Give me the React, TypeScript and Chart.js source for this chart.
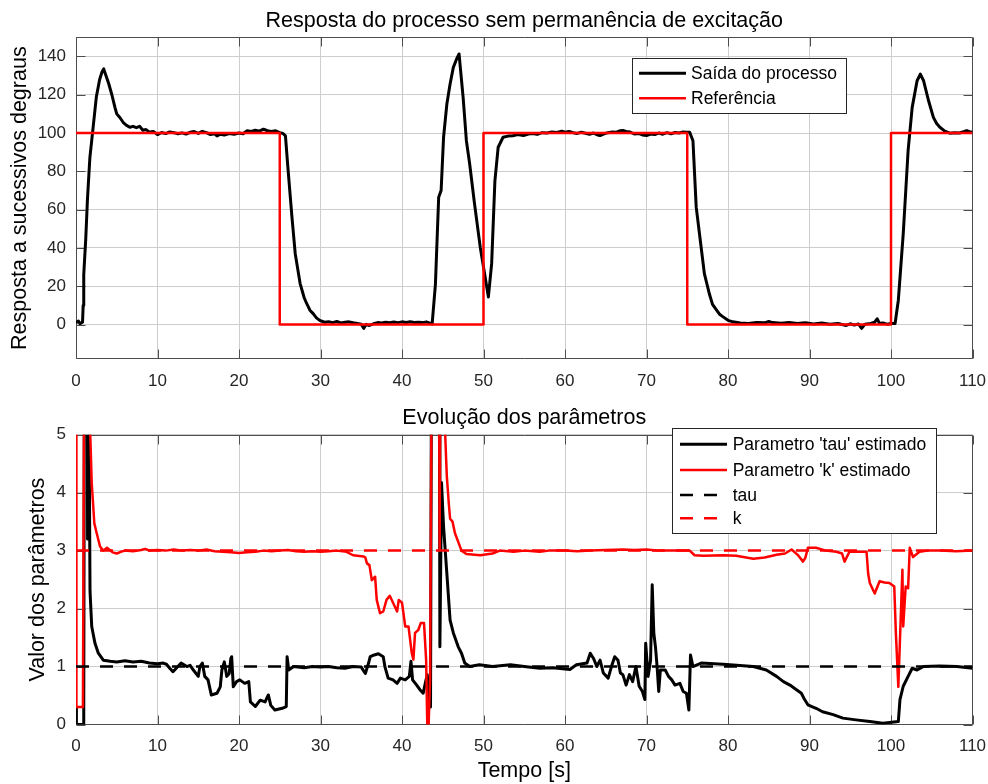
import React, { useEffect, useRef } from 'react';
import { Chart, registerables } from 'chart.js';

Chart.register(...registerables);

const FONT = "'Liberation Sans', Arial, Helvetica, sans-serif";
const GRID = '#cdcdcd';
const AXIS = '#4d4d4d';
const TICK_TEXT = '#262626';

// ---------- tick labels ----------
const xTicks = [0, 10, 20, 30, 40, 50, 60, 70, 80, 90, 100, 110];
const topYTicks = [0, 20, 40, 60, 80, 100, 120, 140];
const botYTicks = [0, 1, 2, 3, 4, 5];

// ---------- top chart: process output [t, value] ----------
const processOutput: [number, number][] = [
  [0, 1], [0.3, 1.8], [0.5, 0.5], [0.8, 1.2], [0.88, 10], [0.95, 26], [1.2, 45], [1.4, 65], [1.7, 87],
  [2.1, 103], [2.5, 119], [2.9, 128], [3.2, 132], [3.4, 133.5], [3.6, 131], [4.0, 126], [4.4, 120],
  [4.8, 113], [5.0, 110], [5.4, 108], [5.8, 105.5], [6.2, 104], [6.6, 103], [7.0, 103.5], [7.4, 102.8],
  [7.8, 103.5], [8.2, 101.5], [8.6, 101.8], [9.0, 100.5], [9.5, 100.8], [10.0, 99.2], [10.5, 100.3],
  [11.0, 99.7], [11.5, 100.6], [12.0, 100.2], [12.5, 99.6], [13.0, 100.1], [13.5, 99.5], [14.0, 100.4],
  [14.5, 100.8], [15.0, 99.8], [15.5, 100.9], [16.0, 100.2], [16.5, 99.2], [17.0, 99.6], [17.3, 98.5],
  [17.7, 99.4], [18.2, 99.0], [18.8, 99.7], [19.4, 99.4], [20.0, 100.0], [20.5, 99.6], [21.0, 101.2],
  [21.5, 100.8], [22.0, 101.5], [22.5, 101.0], [23.0, 102.0], [23.5, 101.2], [24.0, 100.8], [24.5, 101.2],
  [25.0, 100.2], [25.4, 99.8], [25.7, 98.5], [26.0, 82], [26.5, 56], [26.9, 37], [27.5, 21.4], [28.0, 14],
  [28.3, 11], [28.7, 7.5], [29.1, 5.7], [29.5, 3.5], [29.9, 2.2], [30.5, 1.2], [31, 1.5], [31.5, 1.0],
  [32, 1.6], [32.5, 0.8], [33, 1.2], [33.5, 1.4], [34, 0.9], [34.5, 0.6], [35.0, 0.2], [35.3, -2],
  [35.6, 0.1], [36.0, -0.5], [36.5, 0.4], [37, 1.0], [37.5, 0.8], [38, 1.2], [38.5, 0.9], [39, 1.3],
  [39.5, 1.0], [40, 1.4], [40.5, 1.1], [41, 1.5], [41.5, 1.1], [42, 1.2], [42.5, 1.0], [43, 1.4],
  [43.5, 0.6], [43.7, 0.3], [44.1, 21], [44.5, 66.5], [44.8, 70], [45.1, 97.8], [45.5, 115], [45.9, 125.6],
  [46.3, 134.3], [46.7, 138.7], [47.0, 141.3], [47.5, 118.6], [47.9, 96], [48.3, 84], [48.9, 63],
  [49.6, 40.4], [50.2, 24.8], [50.6, 14.4], [51.0, 31.8], [51.4, 75], [51.8, 92.6], [52.4, 97.8],
  [53.0, 98.4], [53.6, 98.6], [54.2, 99.2], [54.9, 98.7], [55.5, 99.5], [56.0, 99.8], [56.6, 99.3],
  [57.2, 100.2], [57.8, 100.0], [58.4, 100.6], [59.0, 100.3], [59.6, 101.0], [60.0, 100.4], [60.5, 100.8],
  [61.0, 100.2], [61.5, 99.8], [62.0, 100.4], [62.5, 99.9], [63.0, 99.4], [63.5, 100.0], [64.0, 99.0],
  [64.3, 98.7], [64.8, 99.6], [65.3, 100.2], [65.8, 100.6], [66.3, 100.4], [66.8, 101.2], [67.1, 101.3],
  [67.5, 100.8], [68.0, 100.5], [68.5, 99.5], [69.0, 99.8], [69.5, 99.0], [70.0, 98.7], [70.5, 99.5],
  [71.0, 99.2], [71.5, 100.0], [72.0, 99.4], [72.5, 100.2], [73.0, 99.6], [73.5, 100.3], [74.0, 100.0],
  [74.5, 100.6], [74.9, 100.4], [75.3, 100.4], [75.7, 96], [76.1, 61.3], [76.5, 47.4], [77.1, 26.6],
  [77.7, 16.2], [78.1, 10.5], [78.6, 7.5], [79.0, 5.2], [79.4, 4], [80.0, 2.2], [80.6, 1.4], [81.5, 0.8],
  [82.5, 0.6], [83.5, 1.1], [84.5, 0.9], [85.0, 1.6], [85.5, 1.0], [86.5, 0.7], [87.5, 1.1], [88.5, 0.5],
  [89.5, 0.9], [90.5, 0.3], [91.5, 0.8], [92.5, 0.2], [93.5, 0.5], [94.5, -0.5], [95.0, 0.4], [95.5, -0.3],
  [96.0, 0.3], [96.4, -2], [96.8, 0.2], [97.5, 0.6], [98.0, 1.2], [98.3, 3], [98.6, 0.5], [99.0, 0.8],
  [99.5, 0.2], [100.0, 0.5], [100.5, 0.5], [100.9, 12.7], [101.5, 47.4], [102.1, 90.9], [102.6, 113.4],
  [103.2, 127.3], [103.6, 130.8], [104.0, 127.3], [104.6, 117], [105.2, 108.2], [105.6, 105], [106.0, 103],
  [106.6, 101], [107.2, 99.9], [107.8, 100.2], [108.4, 100.0], [109.0, 100.8], [109.3, 101.3],
  [109.7, 100.6], [110.0, 100.5],
];

// ---------- top chart: reference steps [t, value] ----------
const reference: [number, number][] = [
  [0, 100], [25, 100], [25, 0], [50, 0], [50, 100], [75, 100], [75, 0], [100, 0], [100, 100], [110, 100],
];

// ---------- bottom chart: estimated tau [t, value] ----------
const tauEstimated: [number, number][] = [
  [0, 0.28], [0.05, 0], [0.95, 0], [1.05, 8], [1.38, 8], [1.42, 3.2], [1.48, 8], [1.56, 8], [1.62, 4.8],
  [1.72, 2.3], [1.93, 1.69], [2.33, 1.4], [2.74, 1.23], [3.35, 1.11], [4.2, 1.09], [5, 1.08], [6, 1.1],
  [7, 1.08], [8, 1.09], [9, 1.06], [10, 1.05], [10.7, 1.06], [11.1, 1.04], [11.5, 0.97], [11.9, 0.91],
  [12.5, 1.0], [12.9, 1.06], [13.6, 1.0], [14.0, 1.02], [14.4, 0.94], [15.0, 0.83], [15.2, 1.0],
  [15.5, 1.06], [15.8, 0.83], [16.2, 0.77], [16.6, 0.51], [17.3, 0.54], [17.7, 0.65], [17.9, 0.94],
  [18.2, 1.08], [18.5, 0.83], [18.8, 0.88], [19.0, 1.14], [19.1, 1.17], [19.3, 0.65], [19.7, 0.74],
  [20.1, 0.77], [20.7, 0.71], [21.2, 0.74], [21.4, 0.39], [22.0, 0.31], [22.6, 0.42], [23.2, 0.39],
  [23.6, 0.51], [23.9, 0.33], [24.4, 0.25], [25.3, 0.28], [25.8, 0.31], [25.9, 1.17], [26.1, 0.94],
  [26.7, 1.0], [28, 0.98], [29, 1.0], [30, 0.99], [31, 1.0], [32, 0.98], [33, 0.97], [34, 1.0],
  [35, 0.99], [35.5, 0.88], [35.9, 1.06], [36.1, 1.17], [36.6, 1.2], [37.1, 1.22], [37.7, 1.17],
  [37.9, 1.0], [38.3, 0.8], [38.9, 0.77], [39.4, 0.71], [39.8, 0.8], [40.4, 0.77], [40.9, 0.83],
  [41.1, 1.09], [41.3, 0.77], [41.8, 0.68], [42.2, 0.6], [42.6, 0.54], [42.9, 0.74], [43.1, 0.86],
  [43.3, 0.5], [43.5, 0.3], [43.65, 8], [44.55, 8], [44.65, 1.34], [44.85, 4.17], [45.1, 3.41],
  [45.5, 2.61], [45.9, 1.8], [46.3, 1.58], [46.9, 1.34], [47.3, 1.23], [47.7, 1.06], [48.3, 1.0],
  [49.5, 1.03], [51.1, 1.0], [53.3, 1.03], [55, 1.0], [56.9, 0.97], [58.5, 0.98], [60.6, 0.95],
  [61.4, 1.03], [62.7, 1.06], [63.1, 1.23], [63.5, 1.14], [63.9, 1.0], [64.3, 1.11], [64.7, 0.89],
  [65.3, 0.8], [65.7, 1.0], [66.1, 1.17], [66.5, 1.11], [66.8, 0.89], [67.1, 0.86], [67.5, 0.68],
  [67.9, 0.86], [68.3, 0.74], [68.7, 1.0], [69.1, 0.66], [69.5, 0.57], [69.8, 0.43], [69.9, 1.4],
  [70.2, 0.83], [70.5, 1.11], [70.7, 2.41], [70.9, 1.57], [71.1, 1.34], [71.3, 1.0], [71.5, 0.57],
  [71.7, 0.94], [72.3, 0.94], [72.7, 0.83], [73.1, 0.77], [73.5, 0.68], [74.1, 0.71], [74.5, 0.57],
  [74.9, 0.54], [75.2, 0.25], [75.4, 1.2], [75.7, 1.0], [76.7, 1.06], [79.4, 1.04], [83.1, 1.0],
  [84.7, 0.94], [85.96, 0.83], [86.8, 0.74], [87.6, 0.68], [88.4, 0.6], [89.0, 0.54], [89.4, 0.43],
  [89.8, 0.34], [90.8, 0.28], [91.6, 0.22], [92.9, 0.17], [94.1, 0.11], [95.7, 0.08], [97.4, 0.05],
  [99.0, 0.02], [100.9, 0.05], [101.1, 0.43], [101.5, 0.66], [102.1, 0.83], [102.6, 0.97], [103.2, 0.94],
  [104.0, 1.0], [106.0, 1.01], [108.1, 1.0], [110, 0.97],
];

// ---------- bottom chart: estimated k [t, value] ----------
const kEstimated: [number, number][] = [
  [0, 8], [0.05, 0.3], [0.85, 0.3], [1.05, 8], [1.6, 8], [1.75, 5.0], [1.93, 4.16], [2.25, 3.47],
  [2.54, 3.3], [2.95, 3.07], [3.35, 3.0], [3.8, 3.05], [4.5, 2.97], [5, 2.95], [5.5, 2.98], [6, 3.0],
  [7, 2.99], [8, 3.01], [8.5, 3.03], [9, 3.0], [10, 3.01], [11, 3.0], [12, 3.02], [13, 3.0], [14, 3.01],
  [15, 3.0], [16, 3.02], [17, 2.99], [18, 2.98], [19, 2.97], [20, 2.96], [21, 2.97], [22, 2.98], [23, 3.0],
  [24, 2.99], [25, 3.0], [26, 3.01], [27, 2.99], [28, 2.98], [29, 2.99], [30, 2.98], [31, 2.99], [32, 3.0],
  [33.2, 2.98], [34.0, 2.92], [35.3, 2.9], [35.5, 2.88], [35.7, 2.78], [36.0, 2.75], [36.3, 2.49],
  [36.7, 2.55], [36.9, 2.15], [37.3, 1.92], [37.7, 1.95], [38.1, 2.15], [38.5, 2.22], [38.9, 2.1],
  [39.4, 1.95], [39.6, 2.15], [40.0, 2.1], [40.4, 1.69], [40.8, 1.69], [41.2, 1.23], [41.4, 1.12],
  [41.6, 1.58], [42.0, 1.63], [42.3, 1.75], [42.7, 1.75], [42.96, 1.12], [43.1, 0.0], [43.2, -0.3],
  [43.45, 0.8], [43.7, 8], [44.5, 8], [44.62, 3.0], [44.75, 8], [45.2, 8], [45.3, 5.0], [45.5, 4.28],
  [45.75, 3.8], [45.9, 3.55], [46.2, 3.5], [46.5, 3.3], [46.9, 3.15], [47.3, 3.0], [47.9, 2.94],
  [49.6, 2.92], [51.1, 2.95], [52, 3.0], [53.7, 2.98], [55, 3.0], [56.9, 2.98], [58, 3.0], [60, 3.0],
  [61.5, 2.99], [63.1, 3.0], [65, 3.01], [67.1, 3.02], [68.5, 3.01], [70.0, 3.02], [71.5, 3.0], [73, 3.0],
  [75.3, 3.0], [75.9, 2.92], [77, 2.91], [79.4, 2.92], [81, 2.91], [83.1, 2.86], [84.5, 2.88],
  [85.96, 2.93], [87.0, 2.95], [87.8, 3.02], [88.2, 2.97], [88.6, 2.92], [89.2, 2.81], [89.5, 2.88],
  [89.8, 3.05], [90.8, 3.05], [92, 3.0], [93.3, 2.98], [94.0, 2.95], [94.3, 2.81], [94.9, 2.98], [96, 2.98],
  [97.0, 2.98], [97.2, 2.6], [97.4, 2.44], [98.0, 2.26], [98.6, 2.47], [99.2, 2.45], [99.8, 2.44],
  [100.4, 2.38], [100.6, 1.57], [100.9, 0.65], [101.1, 1.46], [101.4, 2.67], [101.5, 1.69], [101.8, 2.38],
  [102.1, 2.35], [102.3, 3.05], [102.7, 2.89], [103.5, 2.98], [104.5, 3.0], [106.0, 3.0], [108, 2.99],
  [110, 3.0],
];

// ---------- bottom chart: true parameters ----------
const tauTrue: [number, number][] = [[0, 1], [110, 1]];
const kTrue: [number, number][] = [[0, 3], [110, 3]];

const toPoints = (arr: [number, number][]) => arr.map(([x, y]) => ({ x, y }));

const boxPlugin = {
  id: 'mlBox',
  beforeDatasetsDraw(chart: any) {
    const { ctx, chartArea: a, scales } = chart;
    const L = Math.round(a.left) + 0.5;
    const R = Math.round(a.right) - 0.5;
    const T = Math.round(a.top) + 0.5;
    const B = Math.round(a.bottom) - 0.5;
    ctx.save();
    ctx.strokeStyle = AXIS;
    ctx.lineWidth = 1;
    ctx.setLineDash([]);
    ctx.beginPath();
    ctx.rect(L, T, R - L, B - T);
    const tl = 9;
    scales.x.ticks.forEach((t: any) => {
      const px = Math.round(scales.x.getPixelForValue(t.value)) + 0.5;
      ctx.moveTo(px, B); ctx.lineTo(px, B - tl);
      ctx.moveTo(px, T); ctx.lineTo(px, T + tl);
    });
    scales.y.ticks.forEach((t: any) => {
      const py = Math.round(scales.y.getPixelForValue(t.value)) + 0.5;
      ctx.moveTo(L, py); ctx.lineTo(L + tl, py);
      ctx.moveTo(R, py); ctx.lineTo(R - tl, py);
    });
    ctx.stroke();
    ctx.restore();
  },
};

function makeTitle(text: string, centerY: number) {
  return {
    id: 'mlTitle',
    afterDraw(chart: any) {
      const { ctx, chartArea: a } = chart;
      ctx.save();
      ctx.fillStyle = '#000000';
      ctx.font = `21.5px ${FONT}`;
      ctx.textAlign = 'center';
      ctx.textBaseline = 'middle';
      ctx.fillText(text, (a.left + a.right) / 2, centerY);
      ctx.restore();
    },
  };
}

type LegendBox = {
  x: number; y: number; w: number; h: number;
  lineX0: number; lineX1: number; textX: number; rows: number[];
};

function makeLegend(box: LegendBox) {
  return {
    id: 'mlLegend',
    afterDraw(chart: any) {
      const ctx = chart.ctx;
      ctx.save();
      ctx.fillStyle = '#ffffff';
      ctx.fillRect(box.x, box.y, box.w, box.h);
      ctx.strokeStyle = '#262626';
      ctx.lineWidth = 1;
      ctx.strokeRect(box.x + 0.5, box.y + 0.5, box.w, box.h);
      chart.data.datasets.forEach((ds: any, i: number) => {
        const y = box.rows[i];
        ctx.beginPath();
        ctx.setLineDash(ds.borderDash || []);
        ctx.strokeStyle = ds.borderColor;
        ctx.lineWidth = ds.borderWidth;
        ctx.lineCap = 'butt';
        ctx.moveTo(box.lineX0, y);
        ctx.lineTo(box.lineX1, y);
        ctx.stroke();
        ctx.setLineDash([]);
        ctx.fillStyle = '#000000';
        ctx.font = `17.5px ${FONT}`;
        ctx.textBaseline = 'middle';
        ctx.textAlign = 'left';
        ctx.fillText(ds.label, box.textX, y + 1);
      });
      ctx.restore();
    },
  };
}

const tickFont = { family: FONT, size: 17 };
const labelFont = { family: FONT, size: 21.5, weight: 'normal' as const };

function baseScales(yTicks: number[], yMin: number, yMax: number, xHeight: number, yTitle: string, yTitlePad: number, xTitle?: string) {
  return {
    x: {
      type: 'linear' as const,
      min: 0,
      max: 110,
      afterBuildTicks: (s: any) => { s.ticks = xTicks.map((v) => ({ value: v })); },
      afterFit: (s: any) => { s.height = xHeight; s.paddingLeft = 0; s.paddingRight = 0; },
      grid: { color: GRID, lineWidth: 1, drawTicks: false },
      border: { display: false },
      ticks: { font: tickFont, color: TICK_TEXT, padding: 12, maxRotation: 0, autoSkip: false },
      title: xTitle
        ? { display: true, text: xTitle, font: labelFont, color: '#000', padding: { top: 0, bottom: 0 } }
        : { display: false },
    },
    y: {
      type: 'linear' as const,
      min: yMin,
      max: yMax,
      afterBuildTicks: (s: any) => { s.ticks = yTicks.map((v) => ({ value: v })); },
      afterFit: (s: any) => { s.width = 76; s.paddingTop = 0; s.paddingBottom = 0; },
      grid: { color: GRID, lineWidth: 1, drawTicks: false },
      border: { display: false },
      ticks: { font: tickFont, color: TICK_TEXT, padding: 10, autoSkip: false },
      title: { display: true, text: yTitle, font: labelFont, color: '#000', padding: { top: yTitlePad, bottom: 0 } },
    },
  };
}

export default function App() {
  const topRef = useRef<HTMLCanvasElement>(null);
  const botRef = useRef<HTMLCanvasElement>(null);

  useEffect(() => {
    document.body.style.margin = '0';
    const common = {
      animation: false as const,
      responsive: false,
      maintainAspectRatio: false,
      events: [] as any[],
      elements: {
        point: { radius: 0 },
        line: { tension: 0, borderJoinStyle: 'round' as const, borderCapStyle: 'butt' as const, fill: false },
      },
    };

    const top = new Chart(topRef.current!, {
      type: 'line',
      data: {
        datasets: [
          { label: 'Saída do processo', data: toPoints(processOutput), borderColor: '#000000', borderWidth: 3, order: 1 },
          { label: 'Referência', data: toPoints(reference), borderColor: '#ff0000', borderWidth: 2.5, order: 0 },
        ],
      },
      options: {
        ...common,
        layout: { padding: { left: 0, right: 15.5, top: 37.3, bottom: 0 } },
        plugins: { legend: { display: false }, tooltip: { enabled: false }, title: { display: false } },
        scales: baseScales(topYTicks, -18, 150, 33, 'Resposta a sucessivos degraus', 7.2),
      } as any,
      plugins: [
        boxPlugin,
        makeTitle('Resposta do processo sem permanência de excitação', 21.5),
        makeLegend({ x: 632, y: 58, w: 214, h: 55, lineX0: 639, lineX1: 686, textX: 691, rows: [73.3, 98.3] }),
      ],
    });

    const bot = new Chart(botRef.current!, {
      type: 'line',
      data: {
        datasets: [
          { label: "Parametro 'tau' estimado", data: toPoints(tauEstimated), borderColor: '#000000', borderWidth: 3, order: 3 },
          { label: "Parametro 'k' estimado", data: toPoints(kEstimated), borderColor: '#ff0000', borderWidth: 2.5, order: 2 },
          { label: 'tau', data: toPoints(tauTrue), borderColor: '#000000', borderWidth: 2.5, borderDash: [13, 11], order: 1 },
          { label: 'k', data: toPoints(kTrue), borderColor: '#ff0000', borderWidth: 2.5, borderDash: [13, 11], order: 0 },
        ],
      },
      options: {
        ...common,
        layout: { padding: { left: 0, right: 15.5, top: 42.7, bottom: 0 } },
        plugins: { legend: { display: false }, tooltip: { enabled: false }, title: { display: false } },
        scales: baseScales(botYTicks, 0, 5, 59.5, 'Valor dos parâmetros', 25.2, 'Tempo [s]'),
      } as any,
      plugins: [
        boxPlugin,
        makeTitle('Evolução dos parâmetros', 26.5),
        makeLegend({ x: 672, y: 36, w: 264, h: 105, lineX0: 680, lineX1: 727, textX: 732.7, rows: [52.3, 78, 103, 126.3] }),
      ],
    });

    return () => {
      top.destroy();
      bot.destroy();
    };
  }, []);

  return (
    <div style={{ position: 'absolute', left: 0, top: 0, width: 988, height: 784, background: '#ffffff' }}>
      <canvas ref={topRef} width={988} height={392} style={{ display: 'block', width: 988, height: 392 }} />
      <canvas ref={botRef} width={988} height={392} style={{ display: 'block', width: 988, height: 392 }} />
    </div>
  );
}
